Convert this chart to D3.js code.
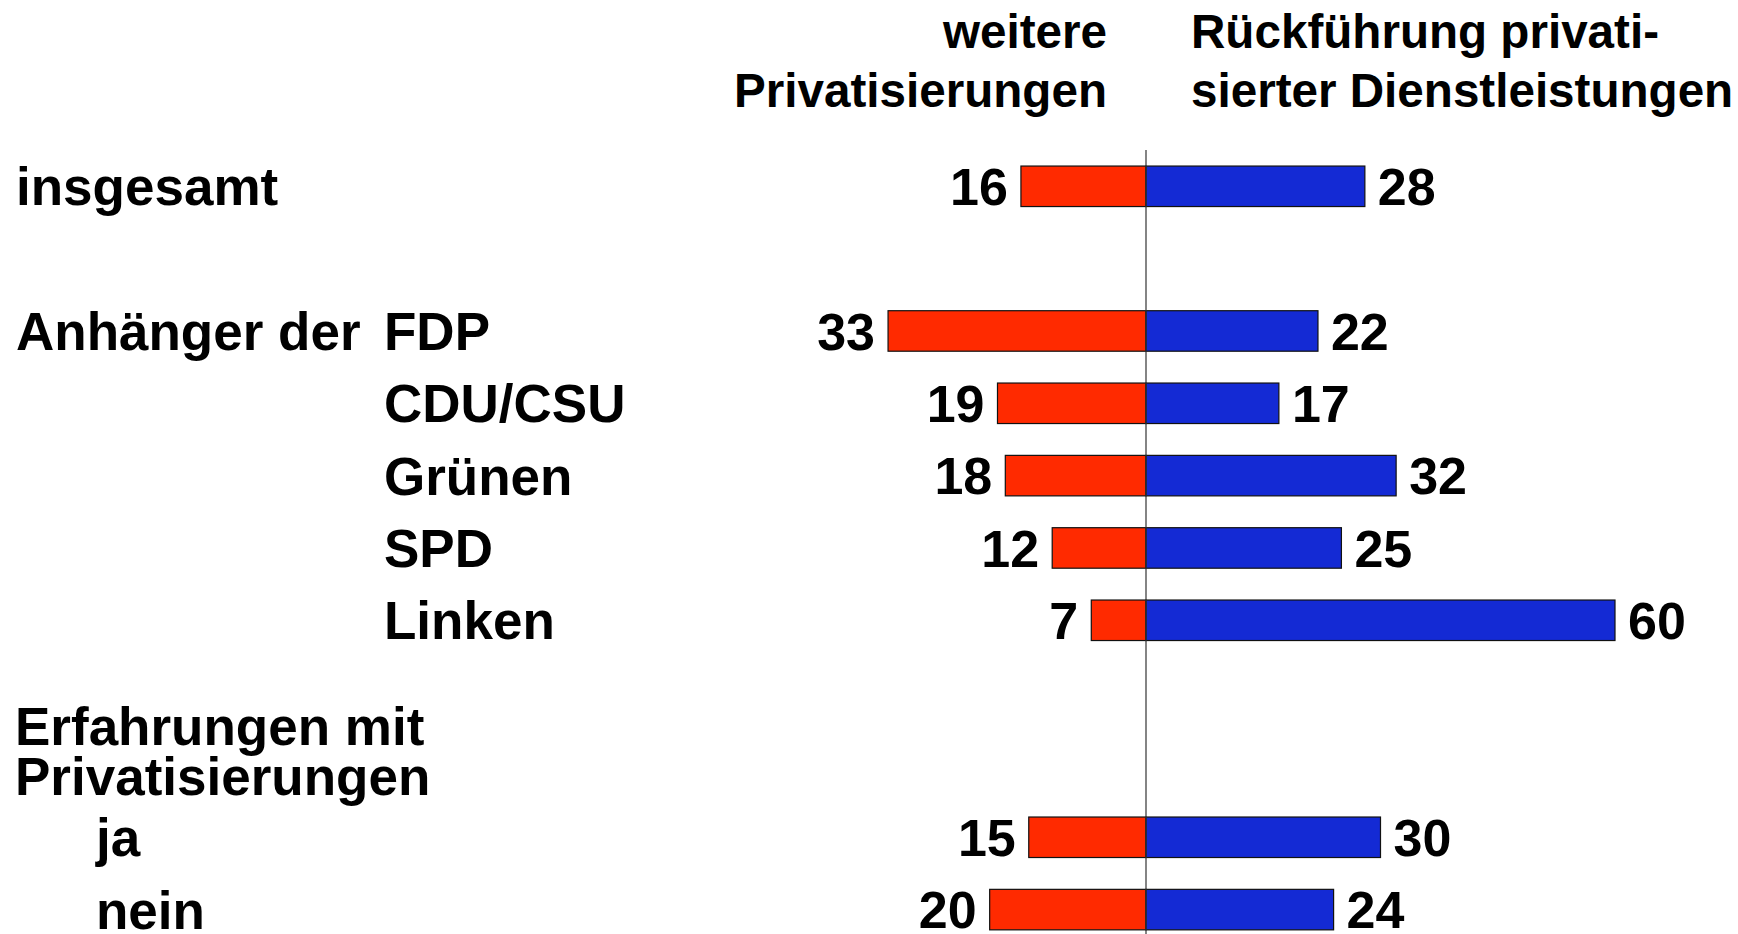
<!DOCTYPE html>
<html>
<head>
<meta charset="utf-8">
<script src="https://cdn.jsdelivr.net/npm/d3@7.9.0/dist/d3.min.js"></script>
<style>
  html, body { margin: 0; padding: 0; background: #fff; }
  svg { display: block; font-family: "Liberation Sans", Arial, sans-serif; font-weight: bold; }
</style>
</head>
<body>
<svg id="chart" width="1738" height="934"></svg>
<script>
// Row labels and values
const categories = ["insgesamt", "FDP", "CDU/CSU", "Grünen", "SPD", "Linken", "ja", "nein"];
const groups = ["total", "party", "party", "party", "party", "party", "exp", "exp"];
const weitere = [16, 33, 19, 18, 12, 7, 15, 20];
const rueckfuehrung = [28, 22, 17, 32, 25, 60, 30, 24];

// Row slots, including empty ones between the blocks
const rows = ["insgesamt", "gap1", "FDP", "CDU/CSU", "Grünen", "SPD", "Linken", "gap2", "gap3", "ja", "nein"];

const headerLeft = ["weitere", "Privatisierungen"];
const headerRight = ["Rückführung privati-", "sierter Dienstleistungen"];
const groupTitleParty = ["Anhänger der"];
const groupTitleExp = ["Erfahrungen mit", "Privatisierungen"];

const svg = d3.select("#chart");

const centerX = 1146;
const barH = 40.5;
const labelSize = 53;
const numSize = 52;
const headerSize = 47.6;

// one unit = ~7.8 px
const x = d3.scaleLinear().domain([0, 60]).range([0, 469]);
const y = d3.scalePoint().domain(rows).range([186.3, 909.6]);

const data = categories.map((c, i) => ({
  label: c, group: groups[i], left: weitere[i], right: rueckfuehrung[i]
}));

const labelX = { total: 16, party: 384, exp: 96 };

// headers
const hl = svg.append("text")
  .attr("text-anchor", "end")
  .attr("font-size", headerSize);
headerLeft.forEach((t, i) => {
  hl.append("tspan").attr("x", 1107).attr("y", 48 + i * 59).text(t);
});
const hr = svg.append("text")
  .attr("font-size", headerSize);
headerRight.forEach((t, i) => {
  hr.append("tspan").attr("x", 1191).attr("y", 48 + i * 59).text(t);
});

// red bars (left)
svg.selectAll("rect.left").data(data).join("rect")
  .attr("class", "left")
  .attr("x", d => centerX - x(d.left))
  .attr("y", d => y(d.label) - barH / 2)
  .attr("width", d => x(d.left))
  .attr("height", barH)
  .attr("fill", "#ff2a00")
  .attr("stroke", "#111")
  .attr("stroke-width", 1.2);

// blue bars (right)
svg.selectAll("rect.right").data(data).join("rect")
  .attr("class", "right")
  .attr("x", centerX)
  .attr("y", d => y(d.label) - barH / 2)
  .attr("width", d => x(d.right))
  .attr("height", barH)
  .attr("fill", "#142ad4")
  .attr("stroke", "#111")
  .attr("stroke-width", 1.2);

// center line
svg.append("line")
  .attr("x1", centerX).attr("x2", centerX)
  .attr("y1", 150).attr("y2", 934)
  .attr("stroke", "#333")
  .attr("stroke-width", 1.2);

// value labels
svg.selectAll("text.lv").data(data).join("text")
  .attr("class", "lv")
  .attr("x", d => centerX - x(d.left) - 13)
  .attr("y", d => y(d.label))
  .attr("dy", "0.36em")
  .attr("text-anchor", "end")
  .attr("font-size", numSize)
  .text(d => d.left);

svg.selectAll("text.rv").data(data).join("text")
  .attr("class", "rv")
  .attr("x", d => centerX + x(d.right) + 13)
  .attr("y", d => y(d.label))
  .attr("dy", "0.36em")
  .attr("font-size", numSize)
  .text(d => d.right);

// row labels
svg.selectAll("text.cat").data(data).join("text")
  .attr("class", "cat")
  .attr("x", d => labelX[d.group])
  .attr("y", d => y(d.label))
  .attr("dy", "0.36em")
  .attr("font-size", labelSize)
  .text(d => d.label);

// group titles
svg.append("text")
  .attr("x", 16)
  .attr("y", y("FDP"))
  .attr("dy", "0.36em")
  .attr("font-size", labelSize)
  .text(groupTitleParty[0]);

const ge = svg.append("text").attr("font-size", labelSize);
groupTitleExp.forEach((t, i) => {
  ge.append("tspan").attr("x", 15).attr("y", y("ja") - 92 + i * 50).text(t);
});
</script>
</body>
</html>
